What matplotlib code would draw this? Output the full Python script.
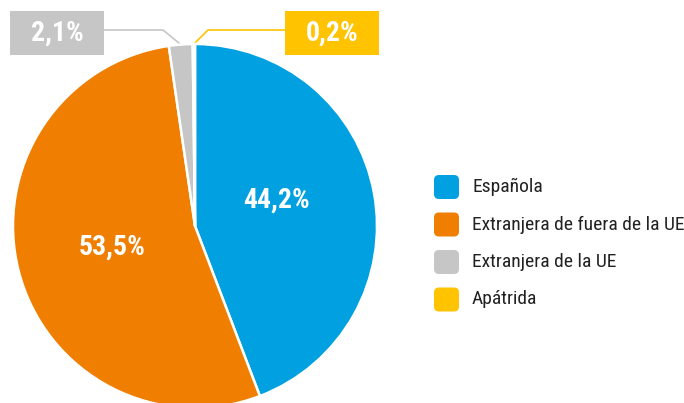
import numpy as np
import matplotlib
matplotlib.use("Agg")
import matplotlib.pyplot as plt
from matplotlib import font_manager
from matplotlib.patches import FancyBboxPatch, Rectangle

# data
labels = ["Española", "Extranjera de fuera de la UE", "Extranjera de la UE", "Apátrida"]
values = [44.2, 53.5, 2.1, 0.2]
colors = ["#00A0E1", "#F07E00", "#C6C6C6", "#FFC300"]

# pick a narrow font if there is one
avail = {f.name for f in font_manager.fontManager.ttflist}
family = "DejaVu Sans"
for name in ["Roboto Condensed", "Liberation Sans Narrow", "Liberation Sans", "Roboto"]:
    if name in avail:
        family = name
        break
plt.rcParams["font.family"] = [family, "DejaVu Sans"]

W, H = 684, 403
fig = plt.figure(figsize=(W / 100, H / 100), dpi=100)
ax = fig.add_axes([0, 0, 1, 1])

cx, cy, R = 195, H - 226, 182

def fmt(v):
    return f"{v:.1f}".replace(".", ",") + "%"

wedges, _ = ax.pie(values, colors=colors, startangle=90, counterclock=False,
                   center=(cx, cy), radius=R,
                   wedgeprops=dict(edgecolor="white", linewidth=1.8))

ax.set_xlim(0, W)
ax.set_ylim(0, H)
ax.set_aspect("equal")
ax.axis("off")

# big labels inside the two main slices
offsets = {0: (0.47, 7), 1: (0.47, 0)}
for i, (dist, dang) in offsets.items():
    w = wedges[i]
    ang = np.deg2rad((w.theta1 + w.theta2) / 2 + dang)
    ax.text(cx + dist * R * np.cos(ang), cy + dist * R * np.sin(ang), fmt(values[i]),
            color="white", fontsize=20, fontweight="bold", ha="center", va="center")

# boxed labels for the two tiny slices
boxes = {2: (10, 104), 3: (285, 379)}
box_top, box_bot = H - 11, H - 55
line_y = H - 30
for i, (x0, x1) in boxes.items():
    w = wedges[i]
    ang = np.deg2rad((w.theta1 + w.theta2) / 2)
    ex, ey = cx + R * np.cos(ang), cy + R * np.sin(ang)
    ax.add_patch(Rectangle((x0, box_bot), x1 - x0, box_top - box_bot,
                           facecolor=colors[i], edgecolor="none"))
    ax.text((x0 + x1) / 2, (box_top + box_bot) / 2, fmt(values[i]),
            color="white", fontsize=20, fontweight="bold", ha="center", va="center")
    if i == 2:
        xs = [x1, 163, ex]
    else:
        xs = [x0, 208, ex]
    ax.plot(xs, [line_y, line_y, ey], color=colors[i], lw=1.2,
            solid_joinstyle="miter", zorder=0.5)

# legend
for k, (lab, col) in enumerate(zip(labels, colors)):
    yc = H - (187 + k * 37.5)
    ax.add_patch(FancyBboxPatch((434, yc - 12), 25, 24,
                                boxstyle="round,pad=0,rounding_size=5",
                                facecolor=col, edgecolor="none"))
    ax.text(472, yc, lab, fontsize=14, color="#222222", ha="left", va="center")

fig.savefig("out.png", dpi=100)
